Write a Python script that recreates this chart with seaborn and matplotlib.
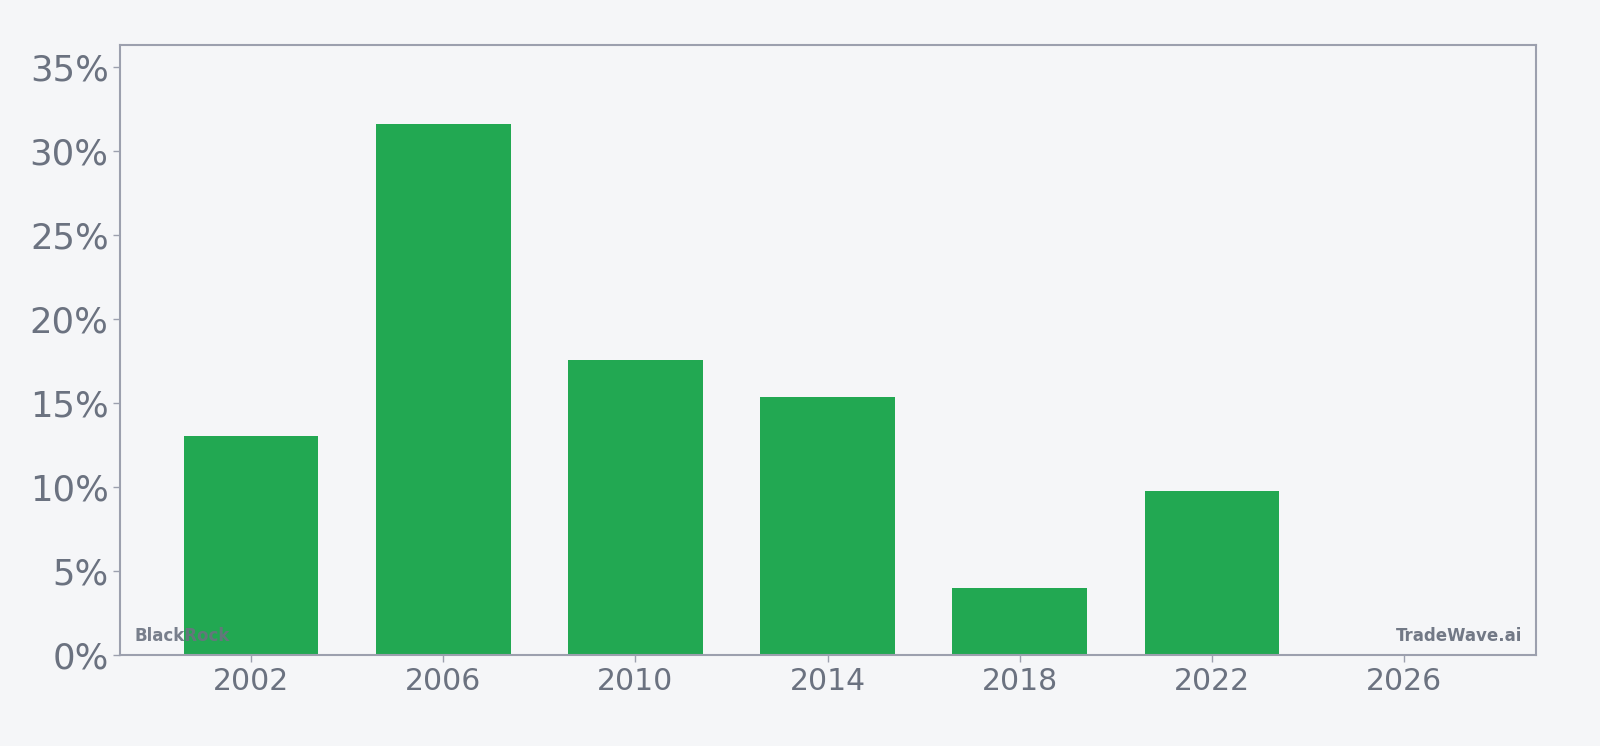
import numpy as np
import pandas as pd
import matplotlib
matplotlib.use('Agg')
import matplotlib.pyplot as plt
import seaborn as sns
from matplotlib.ticker import FuncFormatter

years = [2002, 2006, 2010, 2014, 2018, 2022]
growth = [13.05, 31.6, 17.58, 15.38, 4.02, 9.75]
xticks = [2002, 2006, 2010, 2014, 2018, 2022, 2026]
yticks = [0, 5, 10, 15, 20, 25, 30, 35]

bg = '#f5f6f8'
grey = '#6b7280'
green = '#22a852'

data = pd.DataFrame({'Year': years, 'Growth': growth})

sns.set_style('white')
plt.rcParams['font.family'] = ['DejaVu Sans']

fig = plt.figure(figsize=(16, 7.46), dpi=100, facecolor=bg)
ax = fig.add_axes([0.0753, 0.1219, 0.8845, 0.8179])
ax.set_facecolor(bg)

sns.barplot(data=data, x='Year', y='Growth', native_scale=True, width=0.7,
            color=green, saturation=1, linewidth=0, ax=ax, zorder=2)

ax.set_xlim(1999.28, 2028.74)
ax.set_ylim(0, 36.33)
ax.set_xticks(xticks)
ax.set_yticks(yticks)
ax.yaxis.set_major_formatter(FuncFormatter(lambda v, p: f'{v:.0f}%'))
ax.set_xlabel('')
ax.set_ylabel('')

for s in ax.spines.values():
    s.set_color('#9ca0ae')
    s.set_linewidth(1.5)

ax.tick_params(axis='y', labelsize=25.5, colors=grey, length=5, width=1,
               direction='out', left=True, color='#9ca0ae')
ax.tick_params(axis='x', labelsize=21.5, colors=grey, length=5, width=1,
               direction='out', bottom=True, color='#9ca0ae')

# watermarks
ax.text(0.01, 0.023, 'BlackRock', transform=ax.transAxes, fontsize=12,
        fontweight='bold', color=grey, alpha=0.9, ha='left', va='baseline', zorder=5)
ax.text(0.9905, 0.023, 'TradeWave.ai', transform=ax.transAxes, fontsize=12,
        fontweight='bold', color=grey, alpha=0.95, ha='right', va='baseline', zorder=5)

fig.savefig('out.png', dpi=100, facecolor=bg)
